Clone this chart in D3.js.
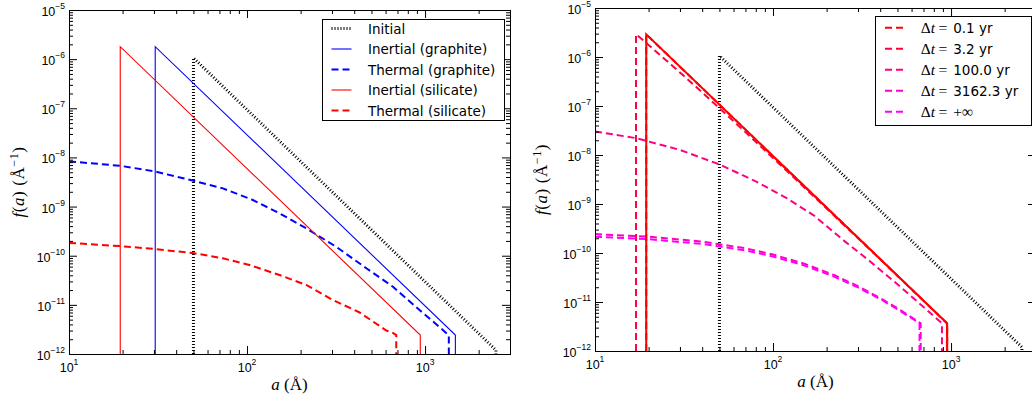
<!DOCTYPE html>
<html>
<head>
<meta charset="utf-8">
<script src="https://cdn.jsdelivr.net/npm/d3@7"></script>
<style>
  body { margin: 0; background: #fff; }
  svg { display: block; }
</style>
</head>
<body>
<svg id="chart"></svg>
<script>
// ---- values ----
const xDomain = [10, 3000];          // a (Å)
const yDomain = [1e-12, 1e-5];       // f(a)
const xMajor = [10, 100, 1000];
const yMajor = [1e-12, 1e-11, 1e-10, 1e-9, 1e-8, 1e-7, 1e-6, 1e-5];

// initial distribution (same in both panels)
const initA = [50, 50, 2500, 2500];
const initF = [1e-12, 1.06e-6, 1.2e-12, 1e-12];

// left panel
const grInertA = [30.5, 30.5, 1480, 1480];
const grInertF = [1e-12, 1.79e-6, 2.43e-12, 1e-12];
const grThermA = [10, 19.2, 30.2, 50.7, 73.1, 107.8, 152.2, 215, 317, 468, 660, 931, 1100, 1259, 1360, 1360];
const grThermF = [8.3e-9, 6.79e-9, 5.22e-9, 3.31e-9, 2.35e-9, 1.36e-9, 7.3e-10, 3.61e-10, 1.52e-10, 5.55e-11, 2.34e-11, 7.85e-12, 4.7e-12, 3.08e-12, 2.4e-12, 1e-12];
const siInertA = [19.4, 19.4, 940, 940];
const siInertF = [1e-12, 1.79e-6, 2.43e-12, 1e-12];
const siThermA = [10, 19.2, 30.2, 50.7, 73.1, 103.3, 152.2, 215, 303, 429, 606, 660, 689, 689];
const siThermF = [1.82e-10, 1.57e-10, 1.37e-10, 1.12e-10, 8.85e-11, 6.47e-11, 4.05e-11, 2.54e-11, 1.26e-11, 7.0e-12, 3.0e-12, 2.7e-12, 2.43e-12, 1e-12];

// right panel
const shatA = [19.4, 19.4, 951, 951];
const shatF = [1e-12, 2.9e-6, 3.67e-12, 1e-12];
const dt0A = [19.4, 19.4, 951, 951];
const dt0F = [1e-12, 2.9e-6, 3.67e-12, 1e-12];
const dt1A = [17, 17, 18.5, 20, 23, 27, 32, 40, 50, 70, 100, 200, 400, 948, 948];
const dt1F = [1e-12, 2.9e-6, 2.24e-6, 1.76e-6, 1.13e-6, 6.8e-7, 3.93e-7, 1.9e-7, 9.0e-8, 2.93e-8, 8.7e-9, 8.1e-10, 7.4e-11, 3.67e-12, 1e-12];
const dt2A = [10, 17, 30, 50, 80, 120, 170, 250, 350, 500, 700, 889, 889];
const dt2F = [3.02e-8, 2.21e-8, 1.27e-8, 6.43e-9, 2.9e-9, 1.3e-9, 5.8e-10, 1.79e-10, 6.79e-11, 2.3e-11, 7.93e-12, 3.67e-12, 1e-12];
const dt3A = [10, 20, 40, 70, 100, 150, 220, 300, 400, 500, 600, 675, 675];
const dt3F = [2.43e-10, 2.15e-10, 1.71e-10, 1.25e-10, 9.3e-11, 6.04e-11, 3.55e-11, 2.11e-11, 1.2e-11, 7.45e-12, 4.88e-12, 3.67e-12, 1e-12];
const dt4A = [10, 20, 40, 70, 100, 150, 220, 300, 400, 500, 600, 665, 665];
const dt4F = [2.15e-10, 1.91e-10, 1.53e-10, 1.13e-10, 8.51e-11, 5.57e-11, 3.31e-11, 1.98e-11, 1.15e-11, 7.11e-12, 4.69e-12, 3.67e-12, 1e-12];

const dtLabels = ['0.1 yr', '3.2 yr', '100.0 yr', '3162.3 yr', '+∞'];
const dtColors = ['#ff0000', '#ff0040', '#ff0080', '#ff00bf', '#ff00ff'];

const sans = "'DejaVu Sans', sans-serif";
const serif = "'Liberation Serif', 'DejaVu Serif', serif";
const tickFont = "'Liberation Sans', Arial, sans-serif";
const DOT = '1,2', DASH = '7,4';

const leftSeries = [
  {a: initA, f: initF, color: '#000', width: 3, dash: DOT, label: 'Initial'},
  {a: grInertA, f: grInertF, color: '#0000ff', width: 1.1, dash: null, label: 'Inertial (graphite)'},
  {a: grThermA, f: grThermF, color: '#0000ff', width: 2, dash: DASH, label: 'Thermal (graphite)'},
  {a: siInertA, f: siInertF, color: '#ff0000', width: 1.1, dash: null, label: 'Inertial (silicate)'},
  {a: siThermA, f: siThermF, color: '#ff0000', width: 2, dash: DASH, label: 'Thermal (silicate)'}
];

const dtA = [dt0A, dt1A, dt2A, dt3A, dt4A];
const dtF = [dt0F, dt1F, dt2F, dt3F, dt4F];
const rightSeries = [{a: initA, f: initF, color: '#000', width: 3, dash: DOT}]
  .concat(dtLabels.map((l, i) => ({a: dtA[i], f: dtF[i], color: dtColors[i], width: 2, dash: DASH, dt: l})))
  .concat([{a: shatA, f: shatF, color: '#ff0000', width: 2, dash: null}]);

const svg = d3.select('#chart')
  .attr('width', 1032)
  .attr('height', 399);

svg.append('rect').attr('width', 1032).attr('height', 399).attr('fill', '#fff');

function drawPanel(p) {
  const g = svg.append('g')
    .attr('transform', `translate(${p.left}, ${p.top})`);

  const x = d3.scaleLog().domain(xDomain).range([0, p.width]);
  const y = d3.scaleLog().domain(yDomain).range([p.height, 0]);

  g.append('clipPath').attr('id', 'clip-' + p.id)
    .append('rect').attr('width', p.width + 1).attr('height', p.height + 1);

  const line = d3.line().x(d => x(d[0])).y(d => y(d[1]));
  const plot = g.append('g').attr('clip-path', `url(#clip-${p.id})`);

  p.series.forEach(s => {
    plot.append('path')
      .datum(d3.zip(s.a, s.f))
      .attr('fill', 'none')
      .attr('stroke', s.color)
      .attr('stroke-width', s.width)
      .attr('stroke-dasharray', s.dash)
      .attr('d', line);
  });

  // ticks (inward, all four sides)
  const isMajor = v => Math.abs(Math.log10(v) - Math.round(Math.log10(v))) < 1e-6;
  const xMinor = x.ticks().filter(v => !isMajor(v));
  const yMinor = y.ticks().filter(v => !isMajor(v));

  const sides = [
    [d3.axisBottom(x), `translate(0, ${p.height})`, xMajor, xMinor],
    [d3.axisTop(x), 'translate(0, 0)', xMajor, xMinor],
    [d3.axisLeft(y), 'translate(0, 0)', yMajor, yMinor],
    [d3.axisRight(y), `translate(${p.width}, 0)`, yMajor, yMinor]
  ];
  sides.forEach(([ax, tr, major, minor]) => {
    [[major, 8], [minor, 4]].forEach(([vals, len]) => {
      const a = g.append('g')
        .attr('transform', tr)
        .call(ax.tickValues(vals).tickSizeInner(-len).tickSizeOuter(0).tickFormat(''));
      a.select('.domain').remove();
      a.selectAll('line').attr('stroke', '#000');
    });
  });

  g.append('rect')
    .attr('x', 0.5).attr('y', 0.5)
    .attr('width', p.width).attr('height', p.height)
    .attr('fill', 'none')
    .attr('stroke', '#000');

  // tick labels
  xMajor.forEach(v => {
    const t = g.append('text')
      .attr('x', x(v)).attr('y', p.height + 17.5)
      .attr('text-anchor', 'middle')
      .style('font-family', tickFont).style('font-size', '12.5px');
    t.append('tspan').text('10');
    t.append('tspan').attr('dy', -7).style('font-size', '8.5px').text(Math.round(Math.log10(v)));
  });
  yMajor.forEach(v => {
    const t = g.append('text')
      .attr('x', -4).attr('y', y(v) + 6)
      .attr('text-anchor', 'end')
      .style('font-family', tickFont).style('font-size', '12.5px');
    t.append('tspan').text('10');
    t.append('tspan').attr('dy', -7).style('font-size', '8.5px')
      .text('\u2212' + Math.abs(Math.round(Math.log10(v))));
  });

  // axis labels
  const xl = g.append('text')
    .attr('x', p.width / 2).attr('y', p.height + 36)
    .attr('text-anchor', 'middle')
    .style('font-family', serif).style('font-size', '17px');
  xl.append('tspan').style('font-style', 'italic').text('a');
  xl.append('tspan').text(' (Å)');

  const yl = g.append('text')
    .attr('transform', `translate(${p.ylabelX}, ${p.height / 2}) rotate(-90)`)
    .attr('text-anchor', 'middle')
    .style('font-family', serif).style('font-size', '17px')
    .style('letter-spacing', '0.6px');
  yl.append('tspan').style('font-style', 'italic').text('f');
  yl.append('tspan').text('(');
  yl.append('tspan').style('font-style', 'italic').text('a');
  yl.append('tspan').text(')  (Å');
  yl.append('tspan').attr('dy', -6).style('font-size', '12px').text('\u22121');
  yl.append('tspan').attr('dy', 6).text(')');

  // legend
  const L = p.legend;
  const lg = svg.append('g');
  lg.append('rect')
    .attr('x', L.x).attr('y', L.y)
    .attr('width', L.w).attr('height', L.h)
    .attr('fill', '#fff')
    .attr('stroke', '#000');

  p.series.filter(s => s.label || s.dt).forEach((s, i) => {
    const ry = L.row0 + i * L.step;
    lg.append('line')
      .attr('x1', L.hx0).attr('x2', L.hx1)
      .attr('y1', ry).attr('y2', ry)
      .attr('stroke', s.color)
      .attr('stroke-width', s.width)
      .attr('stroke-dasharray', s.dash);

    const t = lg.append('text')
      .attr('x', L.tx).attr('y', ry + 5)
      .style('font-family', sans).style('font-size', '13.5px');
    if (s.label) {
      t.text(s.label);
    } else {
      t.append('tspan').style('font-family', serif).style('font-size', '15.5px').text('Δ');
      t.append('tspan').style('font-family', serif).style('font-size', '15.5px').style('font-style', 'italic').text('t');
      t.append('tspan').style('font-family', serif).style('font-size', '15.5px').attr('dx', 3.5).text('=');
      const v = t.append('tspan').attr('dx', 6).text(s.dt);
      if (s.dt === '+∞') v.style('font-family', serif).style('font-size', '15.5px');
    }
  });
}

drawPanel({
  id: 'l', left: 69, top: 10, width: 441, height: 344, series: leftSeries, ylabelX: -45,
  legend: {x: 322.5, y: 19.5, w: 182, h: 101, row0: 28.5, step: 20.5, hx0: 331.5, hx1: 351.5, tx: 368}
});

drawPanel({
  id: 'r', left: 595, top: 8, width: 441, height: 343, series: rightSeries, ylabelX: -48,
  legend: {x: 875.5, y: 16.5, w: 156, h: 109, row0: 27.7, step: 21, hx0: 885, hx1: 903, tx: 920.7}
});
</script>
</body>
</html>
